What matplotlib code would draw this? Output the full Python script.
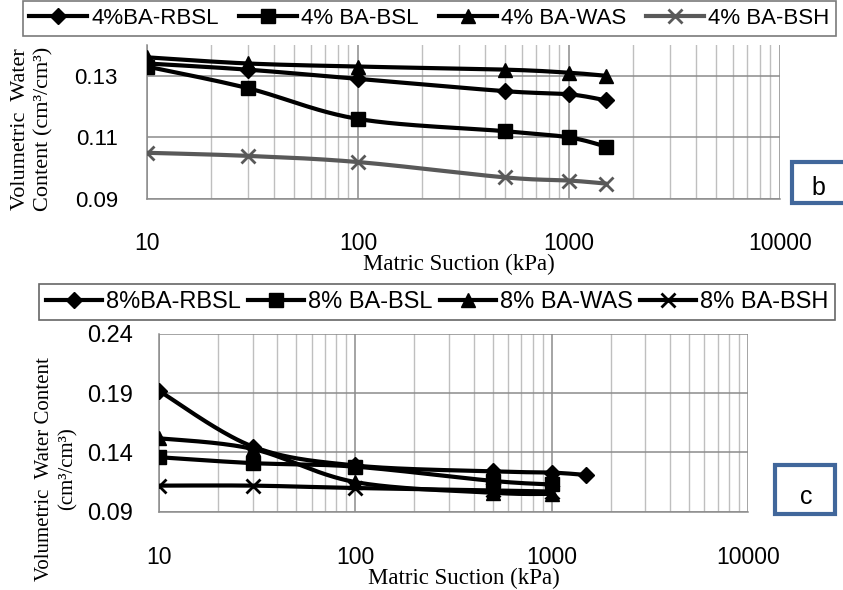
import matplotlib.pyplot as plt
import numpy as np
from matplotlib.lines import Line2D
from matplotlib.patches import Rectangle
from matplotlib.ticker import FixedLocator, NullFormatter

# matric suction steps (kPa)
suction_b = [10, 30, 100, 500, 1000, 1500]
suction_c = [10, 30, 100, 500, 1000]
suction_c_rbsl = [10, 30, 100, 500, 1000, 1500]

# panel b : 4% BA
b_rbsl = [0.134, 0.132, 0.129, 0.125, 0.124, 0.122]
b_bsl = [0.133, 0.126, 0.116, 0.112, 0.110, 0.107]
b_was = [0.136, 0.134, 0.133, 0.132, 0.131, 0.130]
b_bsh = [0.105, 0.104, 0.102, 0.097, 0.096, 0.095]

# panel c : 8% BA
c_rbsl = [0.192, 0.145, 0.129, 0.124, 0.123, 0.121]
c_bsl = [0.136, 0.131, 0.128, 0.116, 0.113]
c_was = [0.152, 0.143, 0.115, 0.106, 0.105]
c_bsh = [0.112, 0.112, 0.110, 0.108, 0.107]

labels_b = ["4%BA-RBSL", "4% BA-BSL", "4% BA-WAS", "4% BA-BSH"]
labels_c = ["8%BA-RBSL", "8% BA-BSL", "8% BA-WAS", "8% BA-BSH"]
xticks = [10, 100, 1000, 10000]

SANS = ["Liberation Sans", "DejaVu Sans"]
SERIF = ["Liberation Serif", "DejaVu Serif"]
plt.rcParams["font.family"] = SANS

MARKERS = ["D", "s", "^", "x"]
MSIZE = [8, 9.5, 10, 10]


def excel_smooth(ax, xs, ys, steps=40):
    """Smoothed line like Excel: bezier segments, control points from neighbours"""
    pts = ax.transData.transform(np.column_stack([xs, ys]))
    n = len(pts)
    out = [pts[0]]
    t = np.linspace(0, 1, steps)[1:, None]
    for i in range(n - 1):
        p0 = pts[max(i - 1, 0)]
        p1 = pts[i]
        p2 = pts[i + 1]
        p3 = pts[min(i + 2, n - 1)]
        c1 = p1 + (p2 - p0) / 6
        c2 = p2 - (p3 - p1) / 6
        seg = (1 - t) ** 3 * p1 + 3 * (1 - t) ** 2 * t * c1 \
            + 3 * (1 - t) * t ** 2 * c2 + t ** 3 * p2
        out.extend(seg)
    data = ax.transData.inverted().transform(np.array(out))
    return data[:, 0], data[:, 1]


def setup_axes(ax, ylo, yhi, ystep, xpad, ypad, ysize):
    ax.set_xscale("log")
    ax.set_xlim(10, 10000)
    ax.set_ylim(ylo, yhi)
    ax.xaxis.set_major_locator(FixedLocator(xticks))
    ax.set_xticklabels([str(v) for v in xticks])
    minors = [m * d for d in (10, 100, 1000) for m in range(2, 10)]
    ax.xaxis.set_minor_locator(FixedLocator(minors))
    ax.xaxis.set_minor_formatter(NullFormatter())
    yt = np.arange(ylo, yhi + 1e-9, ystep)
    ax.set_yticks(yt)
    ax.set_yticklabels(["{:.2f}".format(v) for v in yt])
    ax.grid(which="major", color="#8c8c8c", linewidth=1.1)
    ax.grid(which="minor", axis="x", color="#bfbfbf", linewidth=1.0)
    ax.set_axisbelow(True)
    for s in ["top", "right"]:
        ax.spines[s].set_visible(False)
    for s in ["left", "bottom"]:
        ax.spines[s].set_color("#8c8c8c")
        ax.spines[s].set_linewidth(1.1)
    ax.tick_params(axis="both", which="both", length=0)
    ax.tick_params(axis="x", pad=xpad, labelsize=16.5)
    ax.tick_params(axis="y", pad=ypad, labelsize=ysize)


def draw_series(ax, xs, ys, marker, ms, color):
    sx, sy = excel_smooth(ax, xs, ys)
    ax.plot(sx, sy, color=color, linewidth=3, solid_capstyle="round", zorder=3)
    ax.plot(xs, ys, linestyle="none", marker=marker, markersize=ms,
            color=color, markeredgewidth=2 if marker == "x" else 1, zorder=3)


def legend_handles(colors):
    return [Line2D([0], [0], color=c, linewidth=3, marker=m, markersize=ms,
                   markeredgewidth=2 if m == "x" else 1)
            for c, m, ms in zip(colors, MARKERS, MSIZE)]


W, H = 843, 590
fig = plt.figure(figsize=(W / 100, H / 100), dpi=100)

# ---------- panel b ----------
axb = fig.add_axes([147 / W, 1 - 199 / H, 633 / W, 154 / H])
setup_axes(axb, 0.09, 0.14, 0.02, 24, 21, 16)
axb.set_yticks([0.09, 0.11, 0.13])
axb.set_yticklabels(["0.09", "0.11", "0.13"])
colors_b = ["black", "black", "black", "#595959"]
for ys, m, ms, c in zip([b_rbsl, b_bsl, b_was, b_bsh], MARKERS, MSIZE, colors_b):
    draw_series(axb, suction_b, ys, m, ms, c)

fig.text(459 / W, 1 - 264 / H, "Matric Suction (kPa)", family=SERIF,
         fontsize=16.5, ha="center", va="center")
fig.text(32 / W, 1 - 129 / H, "Volumetric  Water\nContent (cm\u00b3/cm\u00b3)",
         family=SERIF, fontsize=16, rotation=90, ha="center", va="center",
         linespacing=1.3)

lb = fig.legend(legend_handles(colors_b), labels_b, ncol=4, loc="center",
                bbox_to_anchor=(429.5 / W, 1 - 18.5 / H), fontsize=16,
                handlelength=2.6, handletextpad=0.2, columnspacing=0.9,
                frameon=True, fancybox=False, borderpad=0.3)
lb.get_frame().set_edgecolor("#595959")
lb.get_frame().set_linewidth(1.2)

fig.patches.append(Rectangle((792 / W, 1 - 203 / H), 60 / W, 41 / H,
                             transform=fig.transFigure, facecolor="white",
                             edgecolor="#41679b", linewidth=3))
fig.text(818 / W, 1 - 188 / H, "b", fontsize=18, ha="center", va="center")

# ---------- panel c ----------
axc = fig.add_axes([159 / W, 1 - 511.7 / H, 589 / W, 177.7 / H])
setup_axes(axc, 0.09, 0.24, 0.05, 25, 19, 17)
colors_c = ["black"] * 4
series_c = [(suction_c_rbsl, c_rbsl), (suction_c, c_bsl),
            (suction_c, c_was), (suction_c, c_bsh)]
for (xs, ys), m, ms, c in zip(series_c, MARKERS, MSIZE, colors_c):
    draw_series(axc, xs, ys, m, ms, c)

fig.text(464 / W, 1 - 578 / H, "Matric Suction (kPa)", family=SERIF,
         fontsize=16.5, ha="center", va="center")
fig.text(56 / W, 1 - 469 / H, "Volumetric  Water Content\n(cm\u00b3/cm\u00b3)",
         family=SERIF, fontsize=15, rotation=90, ha="center", va="center",
         linespacing=1.3)

lc = fig.legend(legend_handles(colors_c), labels_c, ncol=4, loc="center",
                bbox_to_anchor=(437 / W, 1 - 302 / H), fontsize=17,
                handlelength=2.4, handletextpad=0.15, columnspacing=0.3,
                frameon=True, fancybox=False, borderpad=0.3)
lc.get_frame().set_edgecolor("#404040")
lc.get_frame().set_linewidth(1.2)

fig.patches.append(Rectangle((775 / W, 1 - 514 / H), 60 / W, 49 / H,
                             transform=fig.transFigure, facecolor="white",
                             edgecolor="#41679b", linewidth=3))
fig.text(806 / W, 1 - 497 / H, "c", fontsize=18, ha="center", va="center")

fig.savefig("out.png", dpi=100)
